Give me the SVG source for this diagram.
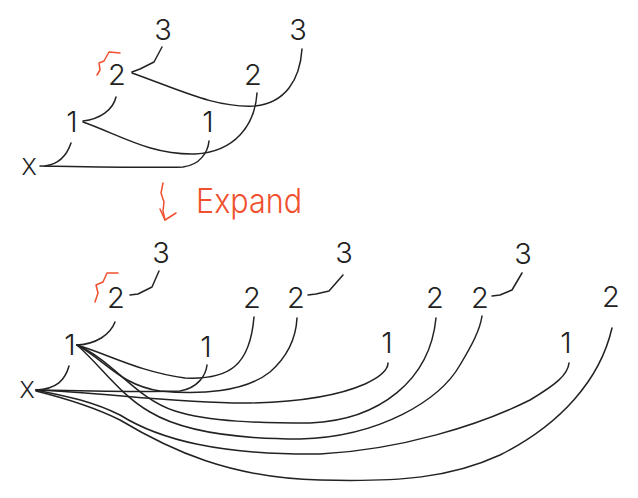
<svg xmlns="http://www.w3.org/2000/svg" width="638" height="498" viewBox="0 0 638 498">
<style>
.n{font-family:Inter,"Lato","Liberation Sans",sans-serif;font-weight:300;font-size:29px;fill:#222;text-anchor:middle}
.x{font-size:23px}
.c{fill:none;stroke:#222;stroke-width:1.5;stroke-linecap:round;stroke-linejoin:round}
.r{fill:none;stroke:#f0502e;stroke-width:1.5;stroke-linecap:round;stroke-linejoin:round}
.rt{font-family:Inter,"Lato","Liberation Sans",sans-serif;font-weight:300;font-size:34px;fill:#f0502e}
</style>
<rect width="638" height="498" fill="#fff"/>
<g id="connectors">
<path class="c" d="M 162 47 L 154 62 L 140 69 L 132 72"/>
<path class="c" d="M 132 73 C 180 90, 215 108, 255 106 C 285 103, 300 80, 302 49"/>
<path class="c" d="M 116 97 C 113 110, 100 119, 83 121"/>
<path class="c" d="M 83 122 C 120 135, 150 155, 195 154 C 235 152, 255 125, 257 93"/>
<path class="c" d="M 71 143 C 67 155, 60 164, 45 166"/>
<path class="c" d="M 40 166 C 100 167, 150 168, 183 167 C 200 165, 208 152, 209 141"/>
<path class="c" d="M 159 271 L 152 287 L 138 294 L 130 295"/>
<path class="c" d="M 343 275 L 329 291 L 316 294 L 308 295"/>
<path class="c" d="M 522 273 L 512 290 L 500 295 L 492 296"/>
<path class="c" d="M 115 322 C 110 335, 96 344, 77 345"/>
<path class="c" d="M 69 366 C 65 380, 57 389, 36 390"/>
<path class="c" d="M 77 345 C 110 355, 140 372, 185 378 C 230 380, 250 365, 254 317"/>
<path class="c" d="M 77 345 C 105 360, 120 385, 160 391 C 200 395, 245 392, 270 372 C 287 357, 296 338, 297 318"/>
<path class="c" d="M 77 345 C 115 362, 135 398, 175 411 C 210 422, 260 423, 310 423 C 380 420, 430 380, 436 318"/>
<path class="c" d="M 77 345 C 100 365, 120 395, 150 412 C 180 430, 230 439, 300 439 C 380 437, 440 400, 460 365 C 472 345, 480 330, 482 316"/>
<path class="c" d="M 36 390 C 80 391, 140 392, 180 391 C 198 388, 206 375, 207 365"/>
<path class="c" d="M 36 390 C 100 392, 180 404, 250 403 C 300 402, 340 395, 365 384 C 380 377, 388 370, 388 363"/>
<path class="c" d="M 36 390 C 60 395, 90 400, 120 415 C 160 440, 220 455, 320 454 C 400 450, 480 425, 530 400 C 555 385, 568 375, 569 363"/>
<path class="c" d="M 36 391 C 60 397, 90 405, 120 420 C 170 450, 230 478, 320 480 C 400 482, 450 478, 500 455 C 560 425, 600 380, 612 328"/>
</g>
<g id="node-top-3a"><text class="n" x="163" y="40">3</text></g>
<g id="node-top-3b"><text class="n" x="298" y="40">3</text></g>
<g id="node-top-2a"><text class="n" x="117" y="85">2</text></g>
<g id="node-top-2b"><text class="n" x="253" y="85">2</text></g>
<g id="node-top-1a"><text class="n" x="72" y="132">1</text></g>
<g id="node-top-1b"><text class="n" x="208" y="132">1</text></g>
<g id="node-top-x"><text class="n x" x="29" y="175">X</text></g>
<g id="mark-top"><path class="r" d="M 97 75 L 100 70 L 99 63 L 104 61 L 109 52 L 120 53"/></g>
<g id="expand"><path class="r" d="M 163 183 L 161 193 L 164 202 L 163 211 L 165 220"/><path class="r" d="M 160 209 L 165 220 L 176 213"/><text class="rt" x="196" y="213" textLength="106" lengthAdjust="spacingAndGlyphs">Expand</text></g>
<g id="node-bot-3a"><text class="n" x="161" y="263">3</text></g>
<g id="node-bot-2a"><text class="n" x="116" y="308">2</text></g>
<g id="node-bot-1a"><text class="n" x="70" y="355">1</text></g>
<g id="node-bot-x"><text class="n x" x="27" y="398">X</text></g>
<g id="node-bot-2b"><text class="n" x="252" y="308">2</text></g>
<g id="node-bot-2c"><text class="n" x="296" y="308">2</text></g>
<g id="node-bot-1b"><text class="n" x="206" y="357">1</text></g>
<g id="node-bot-3b"><text class="n" x="344" y="263">3</text></g>
<g id="node-bot-2d"><text class="n" x="435" y="308">2</text></g>
<g id="node-bot-2e"><text class="n" x="480" y="308">2</text></g>
<g id="node-bot-3c"><text class="n" x="523" y="264">3</text></g>
<g id="node-bot-1c"><text class="n" x="387" y="353">1</text></g>
<g id="node-bot-1d"><text class="n" x="566" y="353">1</text></g>
<g id="node-bot-2f"><text class="n" x="611" y="307">2</text></g>
<g id="mark-bot"><path class="r" d="M 95 302 L 98 293 L 96 285 L 103 282 L 107 273 L 118 273"/></g>
</svg>
